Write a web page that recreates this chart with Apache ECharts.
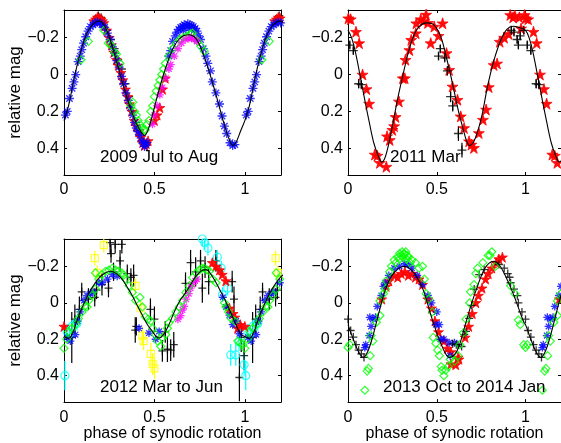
<!DOCTYPE html>
<html><head><meta charset="utf-8">
<script src="https://cdn.jsdelivr.net/npm/echarts@6/dist/echarts.min.js"></script>
<style>html,body{margin:0;padding:0;background:#fff}#c{width:561px;height:443px}</style>
</head><body><div id="c"></div>
<script>
// ---------- tick labels & titles ----------
const xTicks = [0, 0.5, 1];
const yTicks = [-0.2, 0, 0.2, 0.4];
const panelTitles = ["2009 Jul to Aug", "2011 Mar", "2012 Mar to Jun", "2013 Oct to 2014 Jan"];
const yName = "relative mag";
const xName = "phase of synodic rotation";

// ---------- panel 1: 2009 Jul to Aug ----------
const p1Curve = [[0,0.25],[0.025,0.17],[0.05,0.05],[0.075,-0.06],[0.1,-0.15],[0.125,-0.22],[0.15,-0.262],[0.175,-0.284],[0.195,-0.29],[0.22,-0.27],[0.25,-0.205],[0.275,-0.125],[0.3,-0.04],[0.325,0.05],[0.35,0.13],[0.375,0.205],[0.4,0.265],[0.425,0.31],[0.445,0.33],[0.465,0.3],[0.485,0.235],[0.51,0.14],[0.535,0.05],[0.56,-0.03],[0.585,-0.1],[0.61,-0.155],[0.635,-0.19],[0.66,-0.21],[0.69,-0.216],[0.72,-0.205],[0.745,-0.17],[0.77,-0.11],[0.795,-0.04],[0.82,0.04],[0.845,0.125],[0.87,0.215],[0.895,0.3],[0.915,0.355],[0.935,0.385],[0.955,0.36],[0.975,0.31]];
const p1Blue = [[0.008,0.22],[0.018,0.2],[0.03,0.13],[0.045,0.075],[0.055,0.04],[0.065,0.0],[0.078,-0.07],[0.09,-0.1],[0.098,-0.135],[0.108,-0.17],[0.12,-0.205],[0.133,-0.235],[0.146,-0.26],[0.16,-0.27],[0.172,-0.28],[0.185,-0.285],[0.198,-0.28],[0.21,-0.27],[0.225,-0.255],[0.24,-0.225],[0.255,-0.19],[0.268,-0.15],[0.28,-0.115],[0.292,-0.075],[0.305,-0.04],[0.318,0.01],[0.33,0.05],[0.342,0.1],[0.355,0.14],[0.368,0.18],[0.38,0.22],[0.39,0.26],[0.4,0.29],[0.41,0.31],[0.42,0.33],[0.43,0.36],[0.44,0.37],[0.45,0.38],[0.458,0.37],[0.445,0.39],[0.58,-0.1],[0.59,-0.13],[0.6,-0.18],[0.615,-0.21],[0.625,-0.23],[0.635,-0.245],[0.645,-0.255],[0.655,-0.26],[0.665,-0.27],[0.675,-0.265],[0.685,-0.275],[0.695,-0.27],[0.705,-0.265],[0.715,-0.26],[0.725,-0.25],[0.735,-0.235],[0.745,-0.21],[0.755,-0.19],[0.66,-0.24],[0.69,-0.25],[0.72,-0.24],[0.77,-0.14],[0.785,-0.1],[0.795,-0.06],[0.81,-0.02],[0.82,0.04],[0.84,0.1],[0.86,0.16],[0.874,0.225],[0.887,0.28],[0.9,0.32],[0.918,0.37],[0.933,0.385],[0.945,0.38]];
const p1Red = [[0.165,-0.29],[0.175,-0.3],[0.185,-0.31],[0.195,-0.305],[0.205,-0.3],[0.212,-0.29],[0.22,-0.28],[0.235,-0.24],[0.25,-0.2],[0.262,-0.16],[0.275,-0.12],[0.29,-0.08],[0.3,-0.05],[0.315,-0.01],[0.325,0.03],[0.34,0.08],[0.352,0.12],[0.362,0.16],[0.375,0.2],[0.388,0.25],[0.4,0.28],[0.412,0.31],[0.425,0.34],[0.435,0.37],[0.445,0.385],[0.455,0.375],[0.465,0.36],[0.5,0.25],[0.515,0.22],[0.53,0.18],[0.545,0.08],[0.56,0.02]];
const p1Black = [[0.19,-0.32],[0.205,-0.31],[0.22,-0.28],[0.24,-0.24],[0.26,-0.19],[0.28,-0.14],[0.3,-0.08],[0.32,-0.03],[0.34,0.05],[0.36,0.12],[0.38,0.2],[0.4,0.26],[0.42,0.3],[0.44,0.36],[0.46,0.38]];
const p1Green = [[0.094,-0.08],[0.135,-0.18],[0.22,-0.24],[0.245,-0.17],[0.26,-0.16],[0.28,-0.12],[0.29,-0.11],[0.31,-0.06],[0.37,0.17],[0.38,0.15],[0.39,0.2],[0.4,0.22],[0.41,0.25],[0.42,0.27],[0.43,0.29],[0.44,0.3],[0.45,0.3],[0.46,0.27],[0.47,0.25],[0.48,0.2],[0.49,0.17],[0.5,0.12],[0.51,0.09],[0.52,0.06],[0.53,0.03],[0.54,0.0],[0.55,-0.03],[0.56,-0.06],[0.58,-0.1],[0.6,-0.14],[0.62,-0.17],[0.64,-0.19],[0.66,-0.2],[0.68,-0.21],[0.7,-0.22],[0.71,-0.225],[0.72,-0.2],[0.74,-0.18],[0.757,-0.153],[0.776,-0.126]];
const p1Magenta = [[0.489,0.27],[0.5,0.22],[0.515,0.17],[0.53,0.11],[0.544,0.07],[0.563,0.02],[0.58,-0.03],[0.59,-0.054],[0.61,-0.1],[0.63,-0.14],[0.65,-0.17],[0.67,-0.19],[0.69,-0.195],[0.705,-0.2],[0.72,-0.19],[0.735,-0.18]];

// ---------- panel 2: 2011 Mar ----------
const p2Curve = [[0,-0.24],[0.02,-0.2],[0.04,-0.13],[0.067,0.0],[0.095,0.14],[0.12,0.26],[0.145,0.37],[0.17,0.44],[0.19,0.475],[0.205,0.46],[0.225,0.395],[0.25,0.28],[0.28,0.13],[0.31,0.0],[0.34,-0.12],[0.37,-0.21],[0.4,-0.26],[0.44,-0.28],[0.475,-0.275],[0.5,-0.25],[0.525,-0.2],[0.55,-0.11],[0.575,-0.01],[0.6,0.1],[0.625,0.21],[0.65,0.3],[0.668,0.36],[0.685,0.385],[0.705,0.37],[0.73,0.31],[0.755,0.22],[0.785,0.07],[0.82,-0.07],[0.86,-0.185],[0.895,-0.245],[0.93,-0.262],[0.965,-0.255]];
const p2Red = [[0.002,-0.305],[0.015,-0.3],[0.045,-0.232],[0.063,-0.17],[0.082,0.0],[0.104,0.079],[0.119,0.158],[0.151,0.434],[0.165,0.44],[0.179,0.479],[0.216,0.5],[0.22,0.335],[0.235,0.355],[0.25,0.3],[0.26,0.28],[0.268,0.23],[0.287,0.146],[0.309,0.02],[0.32,0.02],[0.324,-0.08],[0.346,-0.133],[0.356,-0.188],[0.382,-0.224],[0.385,-0.278],[0.41,-0.3],[0.425,-0.29],[0.44,-0.325],[0.45,-0.28],[0.466,-0.17],[0.486,-0.26],[0.51,-0.21],[0.533,-0.278],[0.555,-0.116],[0.57,-0.025],[0.589,0.065],[0.617,0.137],[0.635,0.227],[0.654,0.29],[0.682,0.362],[0.695,0.38],[0.709,0.398],[0.737,0.317],[0.76,0.245],[0.778,0.19],[0.793,0.068],[0.821,-0.052],[0.84,-0.06],[0.855,-0.178],[0.88,-0.2],[0.905,-0.22],[0.914,-0.323],[0.93,-0.31],[0.94,-0.32],[0.965,-0.31],[0.975,-0.25],[0.995,-0.323]];
const p2Black = [[0.01,-0.16,0.02],[0.03,-0.13,0.02],[0.06,0.05,0.025],[0.075,0.055,0.02],[0.51,-0.1,0.02],[0.52,-0.14,0.02],[0.545,-0.09,0.02],[0.56,-0.02,0.025],[0.578,0.12,0.03],[0.59,0.17,0.03],[0.622,0.32,0.04],[0.642,0.41,0.04],[0.92,-0.24,0.02],[0.935,-0.23,0.02],[0.953,-0.19,0.02],[0.96,-0.16,0.02],[0.97,-0.21,0.02],[0.99,-0.24,0.02]];

// ---------- panel 3: 2012 Mar to Jun ----------
const p3Curve = [[0,0.185],[0.025,0.195],[0.05,0.16],[0.08,0.075],[0.11,0.005],[0.14,-0.057],[0.17,-0.105],[0.2,-0.143],[0.23,-0.165],[0.257,-0.173],[0.29,-0.16],[0.322,-0.128],[0.35,-0.085],[0.378,-0.039],[0.405,0.015],[0.433,0.068],[0.46,0.118],[0.489,0.157],[0.51,0.185],[0.526,0.193],[0.55,0.175],[0.58,0.12],[0.61,0.05],[0.64,-0.01],[0.674,-0.057],[0.7,-0.1],[0.73,-0.146],[0.76,-0.175],[0.785,-0.182],[0.81,-0.16],[0.841,-0.11],[0.87,-0.055],[0.896,-0.003],[0.925,0.06],[0.952,0.122],[0.975,0.17]];
const p3Green = [[0.0,0.25],[0.015,0.2],[0.026,0.157],[0.044,0.14],[0.063,0.12],[0.08,0.086],[0.1,0.05],[0.115,0.02],[0.128,0.023],[0.137,-0.013],[0.155,-0.04],[0.174,-0.075],[0.174,-0.164],[0.193,-0.13],[0.21,-0.155],[0.23,-0.173],[0.248,-0.18],[0.267,-0.19],[0.285,-0.18],[0.3,-0.173],[0.32,-0.164],[0.33,-0.15],[0.34,-0.13],[0.36,-0.093],[0.378,-0.057],[0.396,-0.0125],[0.42,-0.03],[0.433,0.023],[0.45,0.077],[0.465,0.09],[0.48,0.1],[0.49,0.14],[0.507,0.175],[0.517,0.21],[0.535,0.24],[0.544,0.193],[0.563,0.175],[0.572,0.14],[0.58,0.11],[0.6,0.086],[0.619,0.05],[0.637,0.023],[0.656,-0.0125],[0.674,-0.057],[0.693,-0.093],[0.711,-0.138],[0.73,-0.164],[0.748,-0.18],[0.762,-0.19],[0.776,-0.19],[0.79,-0.18],[0.804,-0.173],[0.822,-0.13],[0.841,-0.11],[0.887,0.0],[0.896,0.023],[0.91,0.05],[0.924,0.086],[0.943,0.1],[0.961,0.21],[0.975,0.22],[0.989,0.23]];
const p3Blue = [[0.017,0.19],[0.035,0.21],[0.063,0.175],[0.075,0.1],[0.09,0.05],[0.11,-0.0125],[0.128,-0.04],[0.146,-0.05],[0.16,-0.06],[0.193,-0.11],[0.21,-0.11],[0.24,-0.13],[0.267,-0.155],[0.294,-0.146],[0.415,0.14],[0.47,0.166],[0.507,0.2],[0.526,0.157],[0.878,-0.03],[0.896,0.023],[0.915,0.068],[0.933,0.12],[0.952,0.1],[0.97,0.17]];
const p3Black = [[0.043,0.19,0.14],[0.06,0.09,0.08],[0.085,0.036,0.07],[0.098,-0.06,0.05],[0.135,-0.02,0.06],[0.17,-0.03,0.05],[0.18,-0.07,0.05],[0.21,-0.1,0.06],[0.246,-0.08,0.05],[0.255,-0.33,0.06],[0.283,-0.32,0.05],[0.26,-0.27,0.05],[0.274,-0.17,0.05],[0.31,-0.23,0.06],[0.32,-0.32,0.05],[0.35,-0.16,0.05],[0.37,-0.14,0.05],[0.385,-0.15,0.06],[0.394,0.15,0.07],[0.4,0.13,0.05],[0.478,0.036,0.06],[0.5,0.09,0.07],[0.544,0.264,0.06],[0.56,0.16,0.06],[0.572,0.255,0.07],[0.59,0.26,0.06],[0.607,0.23,0.07],[0.672,-0.107,0.06],[0.7,-0.22,0.07],[0.728,-0.17,0.08],[0.755,-0.23,0.06],[0.765,-0.08,0.08],[0.78,-0.196,0.06],[0.8,-0.116,0.07],[0.84,-0.23,0.06],[0.93,-0.116,0.06],[0.94,-0.02,0.07],[0.97,0.41,0.13],[0.98,0.19,0.08],[0.996,0.29,0.08]];
const p3Cyan = [[0.005,0.4,0.08],[0.017,0.157,0.04],[0.03,0.17,0.05],[0.044,0.13,0.04],[0.072,0.113,0.04],[0.765,-0.35,0.04],[0.778,-0.33,0.04],[0.796,-0.3,0.04],[0.848,-0.25,0.04],[0.87,-0.19,0.04],[0.876,-0.045,0.04],[0.905,-0.08,0.04],[0.922,0.286,0.06],[0.95,0.286,0.06],[0.968,0.214,0.05],[0.996,0.34,0.06]];
const p3Yellow = [[0.17,-0.245,0.04],[0.183,-0.164,0.04],[0.22,-0.316,0.04],[0.396,-0.093,0.04],[0.424,0.03,0.04],[0.433,0.18,0.05],[0.44,0.21,0.05],[0.48,0.28,0.06],[0.49,0.336,0.06],[0.5,0.36,0.06]];
const p3Red = [[0.0,0.13],[0.82,-0.22],[0.84,-0.2],[0.86,-0.18],[0.875,-0.155],[0.895,-0.12],[0.915,0.03],[0.935,0.06],[0.945,0.08],[0.96,0.14],[0.975,0.12]];
const p3Magenta = [[0.63,0.09],[0.645,0.07],[0.655,0.04],[0.665,0.02],[0.675,-0.02],[0.69,-0.05],[0.7,-0.08],[0.71,-0.1],[0.725,-0.12],[0.735,-0.13]];

// ---------- panel 4: 2013 Oct to 2014 Jan ----------
const p4Curve = [[0,0.12],[0.03,0.2],[0.06,0.27],[0.086,0.3],[0.11,0.27],[0.135,0.2],[0.17,0.07],[0.2,-0.04],[0.23,-0.12],[0.26,-0.165],[0.29,-0.192],[0.318,-0.2],[0.345,-0.19],[0.375,-0.16],[0.405,-0.11],[0.43,-0.055],[0.467,0.068],[0.504,0.175],[0.542,0.265],[0.572,0.3],[0.6,0.285],[0.625,0.24],[0.655,0.14],[0.693,0.014],[0.73,-0.093],[0.767,-0.182],[0.795,-0.218],[0.823,-0.227],[0.85,-0.21],[0.879,-0.164],[0.907,-0.105],[0.935,-0.039],[0.963,0.035],[0.99,0.105]];
const p4Black = [[0.0,0.09],[0.015,0.152],[0.03,0.188],[0.045,0.23],[0.06,0.26],[0.075,0.28],[0.09,0.3],[0.59,0.225],[0.61,0.23],[0.62,0.23],[0.64,0.24],[0.655,0.175],[0.665,0.157],[0.683,0.086],[0.697,0.014],[0.711,-0.075],[0.739,-0.155],[0.767,-0.182],[0.85,-0.21],[0.88,-0.19],[0.9,-0.16],[0.91,-0.14],[0.916,-0.11],[0.935,-0.075],[0.954,-0.039],[0.96,0.0],[0.98,0.05]];
const p4Green = [[0.0,0.245],[0.01,0.23],[0.095,0.48],[0.108,0.375],[0.115,0.36],[0.125,0.29],[0.14,0.21],[0.13,0.18],[0.16,0.107],[0.18,0.07],[0.18,-0.01],[0.2,-0.05],[0.21,-0.075],[0.215,-0.12],[0.235,-0.17],[0.245,-0.2],[0.26,-0.235],[0.27,-0.22],[0.28,-0.25],[0.29,-0.24],[0.29,-0.27],[0.3,-0.26],[0.305,-0.28],[0.31,-0.25],[0.315,-0.27],[0.32,-0.265],[0.325,-0.28],[0.33,-0.24],[0.335,-0.26],[0.34,-0.25],[0.35,-0.22],[0.36,-0.235],[0.38,-0.22],[0.4,-0.19],[0.42,-0.2],[0.43,-0.13],[0.44,-0.05],[0.455,-0.02],[0.475,0.05],[0.48,0.19],[0.495,0.223],[0.505,0.26],[0.515,0.29],[0.525,0.35],[0.53,0.37],[0.54,0.4],[0.55,0.37],[0.565,0.35],[0.575,0.31],[0.6,0.32],[0.62,0.29],[0.63,0.23],[0.65,0.165],[0.665,0.09],[0.685,0.0],[0.69,-0.06],[0.71,-0.1],[0.72,-0.16],[0.73,-0.19],[0.76,-0.22],[0.79,-0.26],[0.8,-0.26],[0.81,-0.28],[0.83,-0.2],[0.916,-0.093],[0.94,-0.05],[0.96,0.095],[0.97,0.12],[0.99,0.23]];
const p4Blue = [[0.095,0.246],[0.1,0.23],[0.12,0.18],[0.123,0.08],[0.13,0.13],[0.14,0.09],[0.155,0.08],[0.165,0.02],[0.188,-0.04],[0.2,-0.09],[0.21,-0.11],[0.23,-0.15],[0.26,-0.19],[0.29,-0.2],[0.32,-0.215],[0.34,-0.21],[0.36,-0.19],[0.39,-0.15],[0.42,-0.1],[0.45,-0.04],[0.47,0.0],[0.5,0.05],[0.495,0.12],[0.514,0.12],[0.52,0.2],[0.54,0.2],[0.57,0.22],[0.575,0.29],[0.6,0.22]];
const p4Red = [[0.19,-0.02],[0.215,-0.09],[0.23,-0.12],[0.26,-0.15],[0.28,-0.14],[0.3,-0.16],[0.32,-0.17],[0.34,-0.15],[0.36,-0.16],[0.38,-0.14],[0.4,-0.13],[0.42,-0.1],[0.45,-0.02],[0.47,0.03],[0.49,0.1],[0.51,0.16],[0.54,0.21],[0.56,0.25],[0.58,0.27],[0.58,0.336],[0.607,0.34],[0.62,0.3],[0.625,0.31],[0.66,0.19],[0.68,0.13],[0.7,0.06],[0.72,0.0],[0.735,-0.04],[0.755,-0.08],[0.775,-0.13],[0.79,-0.16],[0.81,-0.19],[0.835,-0.22],[0.85,-0.24],[0.87,-0.25]];

// ---------- helpers ----------
const FONT = '"Liberation Sans", Arial, Helvetica, sans-serif';
const SYM = {
  star: 'path://M5,0L6.18,3.62L10,3.62L6.91,5.86L8.09,9.51L5,7.27L1.91,9.51L3.09,5.86L0,3.62L3.82,3.62Z',
  plus: 'path://M0,5L10,5M5,0L5,10',
  aster: 'path://M0,5L10,5M5,0L5,10M1.46,1.46L8.54,8.54M1.46,8.54L8.54,1.46'
};
// phase-folded data are repeated one cycle later (phase + 1), as in the original figure
function wrap(arr, lim) {
  const out = arr.map(p => p.slice());
  arr.forEach(p => { if (p[0] <= lim) out.push([p[0] + 1].concat(p.slice(1))); });
  return out;
}
function sc(g, data, kind, color, size, lw) {
  const s = {type: 'scatter', xAxisIndex: 2 * g, yAxisIndex: 2 * g, silent: true, animation: false,
    data: wrap(data, 0.21).map(p => [p[0], p[1]]), symbolSize: size};
  if (kind === 'star') { s.symbol = SYM.star; s.itemStyle = {color: color, borderColor: color, borderWidth: 0.8, opacity: 0.95}; }
  else if (kind === 'plus' || kind === 'aster') { s.symbol = SYM[kind]; s.itemStyle = {color: 'transparent', borderColor: color, borderWidth: lw || 1.3}; }
  else { s.symbol = kind; s.itemStyle = {color: 'transparent', borderColor: color, borderWidth: lw || 1.2}; }
  return s;
}
function eb(g, data, color) {
  return {type: 'custom', xAxisIndex: 2 * g, yAxisIndex: 2 * g, silent: true, animation: false, clip: true,
    dimensions: ['x', 'y', 'e'], encode: {x: 0, y: 1},
    data: wrap(data, 0.21),
    renderItem: function (params, api) {
      const x = api.value(0), y = api.value(1), e = api.value(2);
      const a = api.coord([x, y - e]), b = api.coord([x, y + e]);
      return {type: 'line', shape: {x1: a[0], y1: a[1], x2: b[0], y2: b[1]}, style: {stroke: color, lineWidth: 1.2}};
    }};
}
function ln(g, data) {
  const d = wrap(data, 0.26).sort((a, b) => a[0] - b[0]);
  return {type: 'line', xAxisIndex: 2 * g, yAxisIndex: 2 * g, data: d, showSymbol: false, smooth: 0.35,
    lineStyle: {color: '#000', width: 1.1}, z: 5, silent: true, animation: false};
}
function fmt(v) { return (v < 0 ? '\u2212' : '') + String(Math.abs(v)); }

const grids = [
  {left: 64, top: 10, width: 217, height: 165},
  {left: 348, top: 10, width: 216, height: 165},
  {left: 64, top: 239, width: 217, height: 165},
  {left: 348, top: 239, width: 216, height: 165}
];
const xAxes = [], yAxes = [];
for (let g = 0; g < 4; g++) {
  ['bottom', 'top'].forEach((pos, k) => {
    xAxes.push({type: 'value', gridIndex: g, position: pos, min: 0, max: 1.2,
      axisLine: {show: true, onZero: false, lineStyle: {color: '#000', width: 1}},
      axisTick: {show: true, inside: true, length: 3, customValues: xTicks, lineStyle: {color: '#000', width: 1}},
      axisLabel: {show: k === 0, customValues: xTicks, formatter: fmt, color: '#000', fontSize: 16, fontFamily: FONT, margin: 7},
      splitLine: {show: false},
      name: (k === 0 && g >= 2) ? xName : '', nameLocation: 'middle', nameGap: 21,
      nameTextStyle: {color: '#000', fontSize: 16, fontFamily: FONT}});
  });
  ['left', 'right'].forEach((pos, k) => {
    yAxes.push({type: 'value', gridIndex: g, position: pos, min: -0.35, max: 0.545, inverse: true,
      axisLine: {show: true, onZero: false, lineStyle: {color: '#000', width: 1}},
      axisTick: {show: true, inside: true, length: 3, customValues: yTicks, lineStyle: {color: '#000', width: 1}},
      axisLabel: {show: k === 0, customValues: yTicks, formatter: fmt, color: '#000', fontSize: 16, fontFamily: FONT, margin: 5},
      splitLine: {show: false},
      name: (k === 0 && (g === 0 || g === 2)) ? yName : '', nameLocation: 'middle', nameGap: 38, nameRotate: 90,
      nameTextStyle: {color: '#000', fontSize: 17, fontFamily: FONT}});
  });
}

const series = [
  // panel 1
  sc(0, p1Black, 'plus', '#000000', 8),
  sc(0, p1Red, 'star', '#ff0000', 10),
  sc(0, p1Blue, 'aster', '#0000ff', 9),
  sc(0, p1Green, 'diamond', '#00ff00', 8),
  sc(0, p1Magenta, 'aster', '#ff00ff', 8),
  ln(0, p1Curve),
  // panel 2
  sc(1, p2Red, 'star', '#ff0000', 11),
  eb(1, p2Black, '#000000'),
  sc(1, p2Black, 'plus', '#000000', 9),
  ln(1, p2Curve),
  // panel 3
  eb(2, p3Black, '#000000'),
  sc(2, p3Black, 'plus', '#000000', 8),
  eb(2, p3Yellow, '#ffff00'),
  sc(2, p3Yellow, 'rect', '#ffff00', 7),
  eb(2, p3Cyan, '#00ffff'),
  sc(2, p3Cyan, 'circle', '#00ffff', 8),
  sc(2, p3Red, 'star', '#ff0000', 10),
  sc(2, p3Magenta, 'aster', '#ff00ff', 8),
  sc(2, p3Blue, 'aster', '#0000ff', 8),
  sc(2, p3Green, 'diamond', '#00ff00', 8),
  ln(2, p3Curve),
  // panel 4
  sc(3, p4Red, 'star', '#ff0000', 10),
  sc(3, p4Blue, 'aster', '#0000ff', 8),
  sc(3, p4Black, 'plus', '#000000', 8),
  sc(3, p4Green, 'diamond', '#00ff00', 8),
  ln(3, p4Curve)
];

const titlePos = [[100, 149], [390, 149], [100, 379], [383, 379]];
const chart = echarts.init(document.getElementById('c'), null, {renderer: 'canvas'});
chart.setOption({
  animation: false,
  backgroundColor: '#fff',
  grid: grids,
  xAxis: xAxes,
  yAxis: yAxes,
  series: series,
  graphic: panelTitles.map((t, i) => ({type: 'text', left: titlePos[i][0], top: titlePos[i][1], z: 100,
    style: {text: t, fill: '#000', font: '17px ' + FONT}}))
});
</script></body></html>
